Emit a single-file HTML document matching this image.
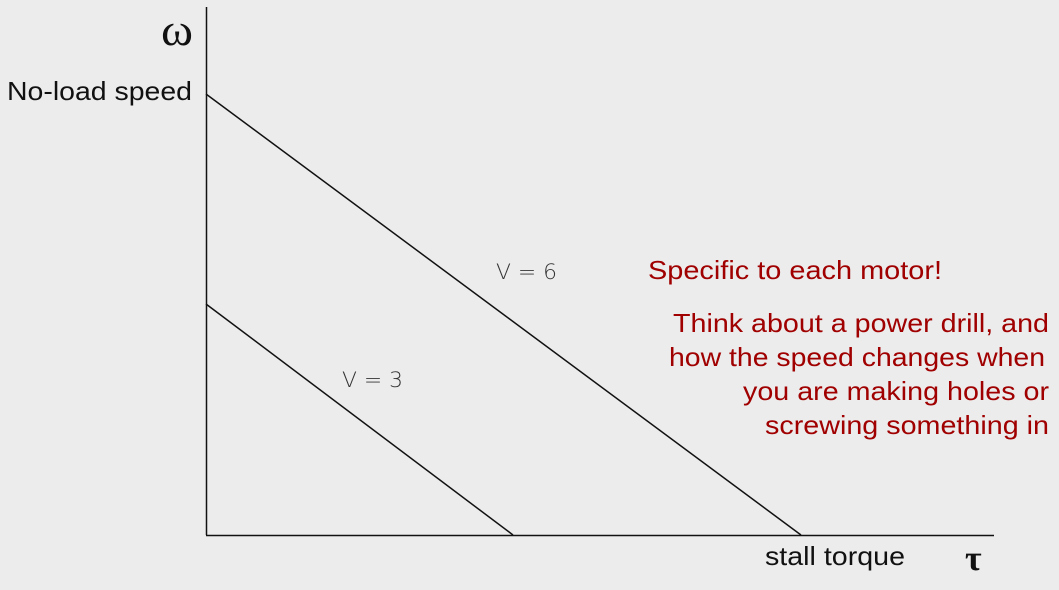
<!DOCTYPE html>
<html><head><style>
body{margin:0;background:#ececec;}
svg{display:block}
</style></head><body>
<svg width="1059" height="590" xmlns="http://www.w3.org/2000/svg">
<rect width="1059" height="590" fill="#ececec"/>
<g stroke="#111" stroke-width="1.5" fill="none">
<line x1="206.5" y1="7" x2="206.5" y2="535"/>
<line x1="206" y1="535.5" x2="994" y2="535.5"/>
<line x1="206" y1="94" x2="801" y2="535"/>
<line x1="206" y1="304" x2="513" y2="535"/>
</g>
<g font-family="Liberation Sans, sans-serif" font-size="26" fill="#111">
<text x="7" y="100" textLength="185" lengthAdjust="spacingAndGlyphs">No-load speed</text>
<text x="765" y="565" textLength="140" lengthAdjust="spacingAndGlyphs">stall torque</text>
</g>
<text x="161" y="45" font-family="Liberation Serif, serif" font-size="46" fill="#111" textLength="32" lengthAdjust="spacingAndGlyphs">ω</text>
<text x="965" y="570" font-family="Liberation Serif, serif" font-size="36" font-weight="bold" fill="#111">τ</text>
<g font-family="DejaVu Sans, sans-serif" font-size="21" fill="#333" font-weight="300">
<text x="496" y="279" textLength="61" lengthAdjust="spacingAndGlyphs">V = 6</text>
<text x="342" y="387" textLength="61" lengthAdjust="spacingAndGlyphs">V = 3</text>
</g>
<g font-family="Liberation Sans, sans-serif" font-size="26" fill="#a00000">
<text x="648" y="279" textLength="294" lengthAdjust="spacingAndGlyphs">Specific to each motor!</text>
<text x="673" y="332" textLength="376" lengthAdjust="spacingAndGlyphs">Think about a power drill, and</text>
<text x="669" y="366" textLength="376" lengthAdjust="spacingAndGlyphs">how the speed changes when</text>
<text x="743" y="400" textLength="306" lengthAdjust="spacingAndGlyphs">you are making holes or</text>
<text x="765" y="434" textLength="284" lengthAdjust="spacingAndGlyphs">screwing something in</text>
</g>
</svg>
</body></html>
